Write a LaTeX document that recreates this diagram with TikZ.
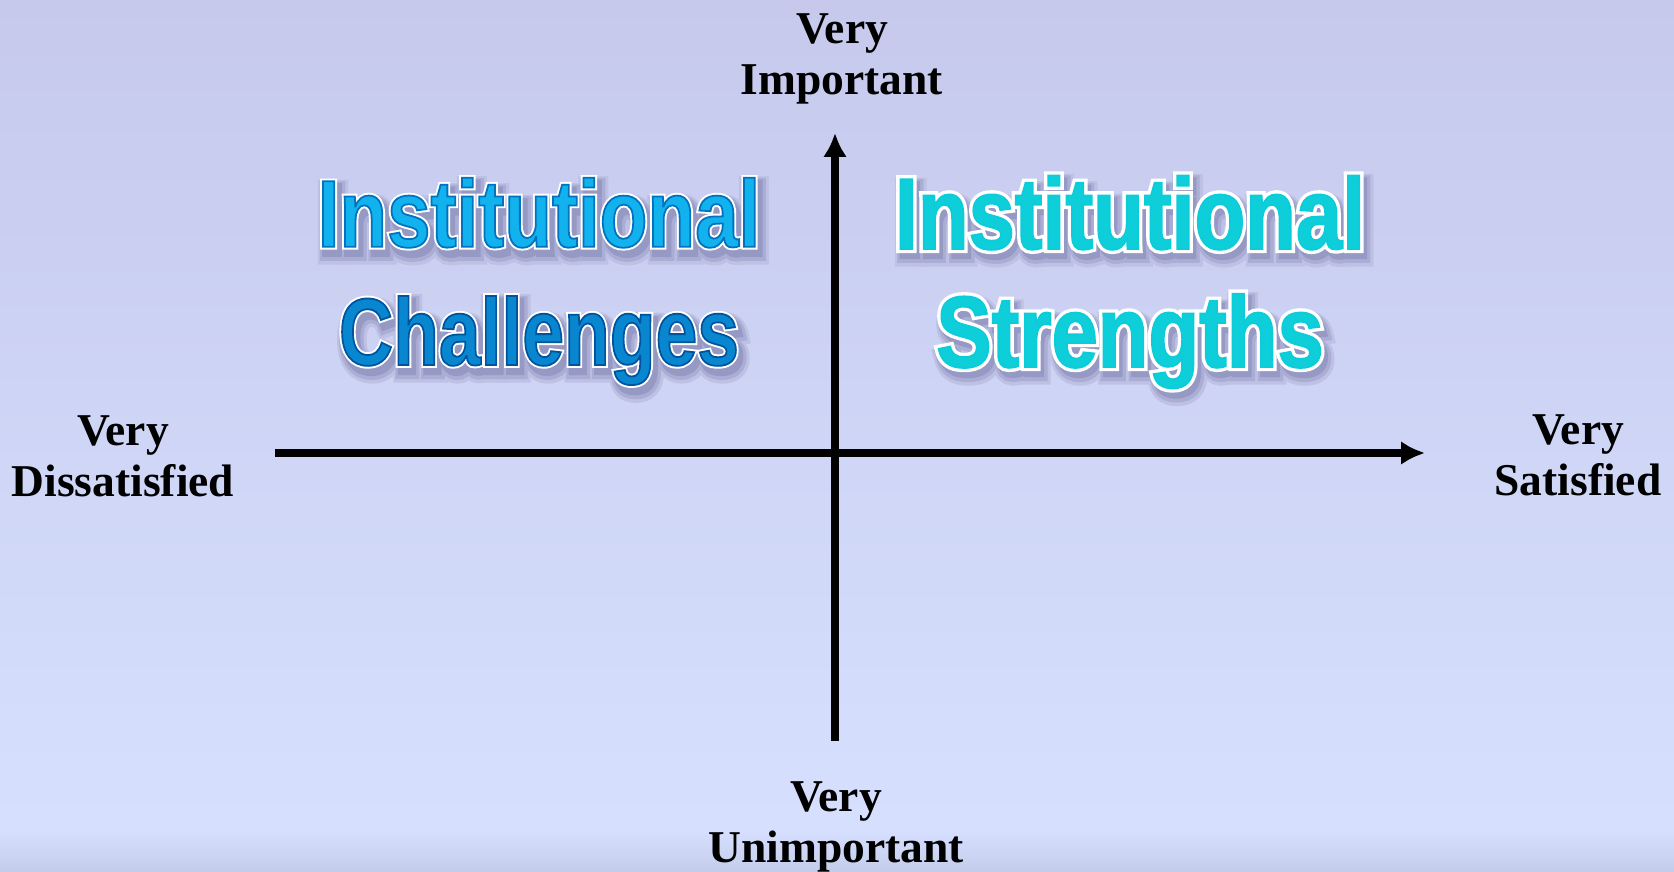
\documentclass[tikz,border=0pt]{standalone}
\usepackage{fontspec}
\setmainfont{Liberation Serif}
\newfontfamily\posterfont{Liberation Sans}[FakeStretch=0.82]
\usetikzlibrary{arrows.meta}
\definecolor{bgtop}{RGB}{198,201,236}
\definecolor{bgmid}{RGB}{210,219,251}
\definecolor{bgbot}{RGB}{214,224,254}
\definecolor{bgband}{RGB}{196,204,236}
\definecolor{instblue}{RGB}{18,178,238}
\definecolor{chalblue}{RGB}{8,134,208}
\definecolor{strgcyan}{RGB}{14,206,218}
\definecolor{shadowa}{RGB}{190,193,228}
\definecolor{shadowb}{RGB}{170,173,212}
\definecolor{shadowc}{RGB}{150,153,196}
% stroke a text with the current colour, width #1 (bp)
\newcommand{\strokeit}[2]{%
  \special{pdf:literal direct 2 Tr #1 w}#2\special{pdf:literal direct 0 Tr}}
% one line of a quadrant title: soft shadow, white rim, coloured letters
\newcommand{\rimline}[4]{%
  \rlap{\kern0.45mm\raisebox{-0.8mm}{\textcolor{shadowa}{\strokeit{5.5}{#4}}}}%
  \rlap{\kern0.4mm\raisebox{-0.7mm}{\textcolor{shadowb}{\strokeit{4}{#4}}}}%
  \rlap{\kern0.35mm\raisebox{-0.6mm}{\textcolor{shadowc}{\strokeit{2.4}{#4}}}}%
  \rlap{\textcolor{white}{\strokeit{#2}{#4}}}%
  \textcolor{#1}{\special{pdf:literal direct #3 RG}\strokeit{0.5}{#4}}}
\tikzset{%
  >={Latex[width=2.4mm,length=2.4mm]},
  % Specifications for the axes and their end labels:
         axis/.style = {line width=2pt, ->},
    axislabel/.style = {align=center, inner sep=0pt,
                        font=\bfseries\fontsize{12.95}{14.5}\selectfont},
  % Specifications for the quadrant titles:
    quadtitle/.style = {align=center, inner sep=0pt,
                        font=\posterfont\bfseries\fontsize{27.1}{33.6}\selectfont},
    strgtitle/.style = {quadtitle,
                        font=\posterfont\bfseries\fontsize{28.8}{33.6}\selectfont},
}

\begin{document}
\begin{tikzpicture}
  % background
  \useasboundingbox (-8.35,-4.19) rectangle (8.39,4.53);
  \shade[top color=bgtop, middle color=bgmid, bottom color=bgbot]
    (-8.35,-3.77) rectangle (8.39,4.53);
  \shade[top color=bgbot, bottom color=bgband]
    (-8.35,-4.19) rectangle (8.39,-3.77);
  % end points of the axes
  \coordinate (west)  at (-5.60,0);
  \coordinate (east)  at (5.90,0);
  \coordinate (south) at (0,-2.88);
  \coordinate (north) at (0,3.20);
  \draw[axis] (west) -- (east);
  \draw[axis] (south) -- (north);
  % labels at the ends of the axes
  \node (imp)   [axislabel] at (0.07,3.94)   {Very\\Important};
  \node (unimp) [axislabel] at (0.01,-3.74)  {Very\\Unimportant};
  \node (dis)   [axislabel] at (-7.12,-0.03) {Very\\Dissatisfied};
  \node (sat)   [axislabel] at (7.43,-0.02)  {Very\\Satisfied};
  % quadrant titles
  \node (chal) [quadtitle] at (-2.96,1.675)
    {\rimline{instblue}{1.6}{0 0.45 0.75}{Institutional}\\
     \scalebox{0.96}[1]{\rimline{chalblue}{1.6}{0 0.33 0.62}{Challenges}}};
  \node (strg) [strgtitle] at (2.95,1.67)
    {\rimline{strgcyan}{2.4}{0.05 0.8 0.85}{Institutional}\\
     \rimline{strgcyan}{2.4}{0.05 0.8 0.85}{Strengths}};
\end{tikzpicture}
\end{document}
